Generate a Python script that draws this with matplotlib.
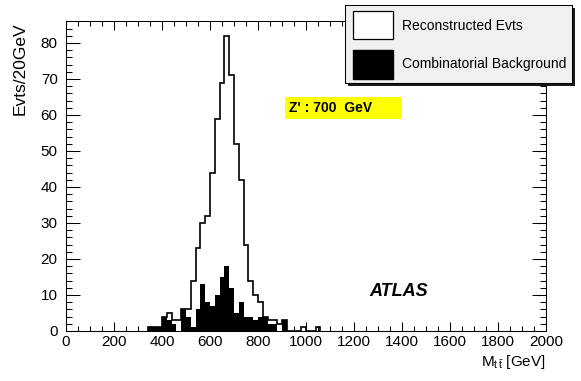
import numpy as np
import matplotlib
matplotlib.use("Agg")
import matplotlib.pyplot as plt
from matplotlib.patches import Rectangle
from matplotlib.ticker import MultipleLocator

# 20 GeV bins, first bin starts at 340 GeV
bin_width = 20
bin_low = np.arange(340, 1060, bin_width)
reconstructed = [1, 1, 1, 4, 5, 3, 3, 6, 6, 14,
                 23, 30, 32, 44, 59, 69, 82, 71, 52, 42,
                 24, 14, 10, 8, 4, 3, 3, 2, 3, 0,
                 0, 0, 1, 0, 0, 1]
background = [1, 1, 1, 4, 3, 2, 0, 6, 4, 1,
              6, 13, 8, 7, 10, 15, 18, 12, 5, 8,
              4, 4, 3, 4, 4, 2, 2, 0, 3, 0,
              0, 0, 0, 0, 0, 0]
legend_labels = ["Reconstructed Evts", "Combinatorial Background"]

plt.rcParams["font.family"] = ["Liberation Sans", "DejaVu Sans"]
plt.rcParams["mathtext.fontset"] = "custom"
plt.rcParams["mathtext.rm"] = "Liberation Sans"
plt.rcParams["mathtext.it"] = "Liberation Sans:italic"

W, H = 581, 381
fig = plt.figure(figsize=(W / 100, H / 100), dpi=100)
ax = fig.add_axes([66 / W, 50 / H, 480 / W, 310 / H])


def box(x0, y0, x1, y1, **kw):
    # rectangle given in pixel coords measured from the top-left corner
    fig.add_artist(Rectangle((x0 / W, 1 - y1 / H), (x1 - x0) / W,
                             (y1 - y0) / H, transform=fig.transFigure, **kw))


edges = np.append(bin_low, bin_low[-1] + bin_width)
ax.stairs(background, edges, fill=True, color="black", linewidth=0)
ax.stairs(reconstructed, edges, fill=False, color="black", linewidth=1.2)

ax.set_xlim(0, 2000)
ax.set_ylim(0, 86.1)
ax.xaxis.set_major_locator(MultipleLocator(200))
ax.xaxis.set_minor_locator(MultipleLocator(50))
ax.yaxis.set_major_locator(MultipleLocator(10))
ax.yaxis.set_minor_locator(MultipleLocator(2))
ax.tick_params(which="both", direction="in", top=True, right=True,
               width=0.75, labelsize=11)
ax.tick_params(axis="x", which="major", length=6.5, pad=3)
ax.tick_params(axis="x", which="minor", length=3.3)
ax.tick_params(axis="y", which="major", length=10, pad=6)
ax.tick_params(axis="y", which="minor", length=4.5)
for s in ax.spines.values():
    s.set_linewidth(0.75)

fig.text(20 / W, 1 - 22 / H, "Evts/20GeV", rotation=90, ha="center",
         va="top", fontsize=12.5)
fig.text(546 / W, 1 - 362 / H, r"$\mathregular{M_{t\,\bar{t}}}$ [GeV]",
         ha="right", va="center", fontsize=11)

# Z' label with yellow box
box(285, 97, 402, 119, facecolor="yellow", edgecolor="none")
fig.text(289 / W, 1 - 108 / H, "Z' : 700  GeV", ha="left", va="center",
         fontsize=10, fontweight="bold")

fig.text(369 / W, 1 - 291 / H, "ATLAS", ha="left", va="center",
         fontsize=13, fontweight="bold", fontstyle="italic")

# legend drawn ROOT-style: shadow, grey box, two filled entries
box(348, 8, 575, 86, facecolor="#1a1a1a", edgecolor="none", zorder=5)
box(345, 5, 572, 83, facecolor="#f0f0f0", edgecolor="black",
    linewidth=0.75, zorder=6)
box(353, 11, 393, 39, facecolor="white", edgecolor="black",
    linewidth=0.9, zorder=7)
box(353, 50, 393, 79, facecolor="black", edgecolor="black", zorder=7)
for label, yc in zip(legend_labels, [26, 64]):
    fig.text(402 / W, 1 - yc / H, label, ha="left", va="center",
             fontsize=10, zorder=8)

fig.savefig("out.png", dpi=100)
